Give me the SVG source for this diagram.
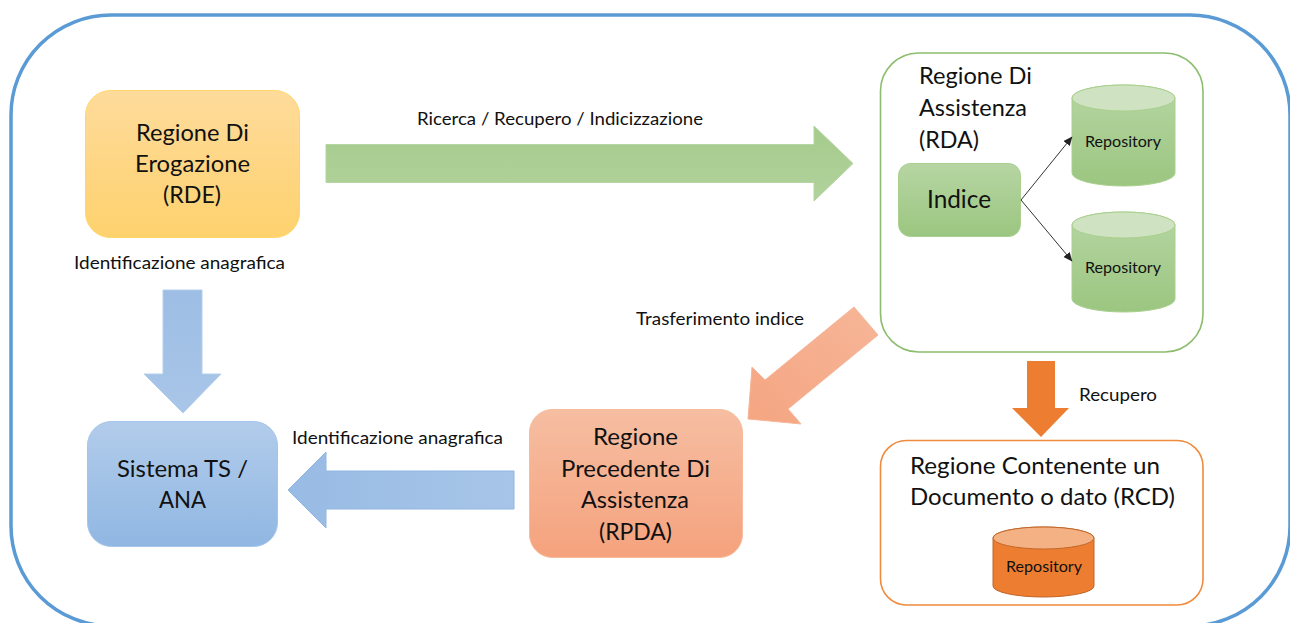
<svg xmlns="http://www.w3.org/2000/svg" width="1290" height="623" viewBox="0 0 1290 623">
<defs>
<linearGradient id="gy" x1="0" y1="0" x2="0" y2="1"><stop offset="0" stop-color="#fedb9b"/><stop offset="1" stop-color="#fed26e"/></linearGradient>
<linearGradient id="gg" x1="0" y1="0" x2="0" y2="1"><stop offset="0" stop-color="#b6d5a3"/><stop offset="1" stop-color="#9bc680"/></linearGradient>
<linearGradient id="gb" x1="0" y1="0" x2="0" y2="1"><stop offset="0" stop-color="#b2cceb"/><stop offset="1" stop-color="#90b7e2"/></linearGradient>
<linearGradient id="go" x1="0" y1="0" x2="0" y2="1"><stop offset="0" stop-color="#f6bea2"/><stop offset="1" stop-color="#f5a27d"/></linearGradient>
<linearGradient id="agr" x1="0" y1="0" x2="0" y2="1"><stop offset="0" stop-color="#a5cb8c"/><stop offset="1" stop-color="#b1d29c"/></linearGradient>
<linearGradient id="abh" x1="0" y1="0" x2="1" y2="0"><stop offset="0" stop-color="#98bbe4"/><stop offset="1" stop-color="#a7c5e8"/></linearGradient>
<linearGradient id="abv" x1="0" y1="0" x2="0" y2="1"><stop offset="0" stop-color="#9dbde4"/><stop offset="1" stop-color="#a9c6e8"/></linearGradient>
<linearGradient id="aod" x1="1" y1="0" x2="0" y2="1"><stop offset="0" stop-color="#f6b698"/><stop offset="1" stop-color="#f5a582"/></linearGradient>
<marker id="ah" markerWidth="10" markerHeight="10" refX="8.5" refY="4" orient="auto" markerUnits="userSpaceOnUse"><path d="M0,0 L9,4 L0,8 Z" fill="#222"/></marker>
</defs>
<style>
text{font-family:Lato,"Liberation Sans",sans-serif;fill:#111}
.b{font-size:22.5px}
.s{font-size:17px}
.r{font-size:15px}
.i{font-size:25.5px}
.ws{fill:#fff;stroke-width:1.6}
.nb{stroke-width:1}
.cg{fill:url(#gg);stroke:#a9d08e;stroke-width:1}
.ct{fill:#cfe3c2;stroke:#a9d08e;stroke-width:1}
</style>
<rect width="1290" height="623" fill="#fff"/>
<rect id="frame" x="11" y="15" width="1279" height="611" rx="100" ry="100" fill="none" stroke="#5b9bd5" stroke-width="3.5"/>

<g id="rde">
<rect class="nb" x="85.5" y="90.5" width="214" height="147" rx="25" fill="url(#gy)" stroke="#ffd666"/>
<text class="b" x="136" y="141" textLength="113" lengthAdjust="spacingAndGlyphs">Regione Di</text>
<text class="b" x="135" y="172" textLength="115" lengthAdjust="spacingAndGlyphs">Erogazione</text>
<text class="b" x="163" y="203" textLength="58" lengthAdjust="spacingAndGlyphs">(RDE)</text>
</g>

<g id="sistema">
<rect class="nb" x="87.5" y="421.5" width="190" height="125" rx="24" fill="url(#gb)" stroke="#a5c5ea"/>
<text class="b" x="117" y="477" textLength="131" lengthAdjust="spacingAndGlyphs">Sistema TS /</text>
<text class="b" x="159" y="508" textLength="47" lengthAdjust="spacingAndGlyphs">ANA</text>
</g>

<g id="rpda">
<rect class="nb" x="529.5" y="409.5" width="213" height="148" rx="23" fill="url(#go)" stroke="#f7bc9c"/>
<text class="b" x="593" y="445" textLength="85" lengthAdjust="spacingAndGlyphs">Regione</text>
<text class="b" x="561" y="477" textLength="149" lengthAdjust="spacingAndGlyphs">Precedente Di</text>
<text class="b" x="581" y="508" textLength="108" lengthAdjust="spacingAndGlyphs">Assistenza</text>
<text class="b" x="599" y="540" textLength="73" lengthAdjust="spacingAndGlyphs">(RPDA)</text>
</g>

<g id="rda">
<rect class="ws" x="880.5" y="53" width="322.5" height="299" rx="38" stroke="#8cbd6e"/>
<text class="b" x="919" y="84" textLength="113" lengthAdjust="spacingAndGlyphs">Regione Di</text>
<text class="b" x="919" y="116" textLength="108" lengthAdjust="spacingAndGlyphs">Assistenza</text>
<text class="b" x="919" y="148" textLength="60" lengthAdjust="spacingAndGlyphs">(RDA)</text>
</g>

<g id="indice">
<rect class="nb" x="898.5" y="163.5" width="122" height="73" rx="12" fill="url(#gg)" stroke="#a9d08e"/>
<text class="i" x="927" y="208" textLength="64" lengthAdjust="spacingAndGlyphs">Indice</text>
</g>

<g id="repo1">
<path class="cg" d="M1072,98 A51.5,13 0 0 1 1175,98 V173 A51.5,13 0 0 1 1072,173 Z"/>
<ellipse class="ct" cx="1123.5" cy="98" rx="51.5" ry="13"/>
<text class="r" x="1085" y="147" textLength="76" lengthAdjust="spacingAndGlyphs">Repository</text>
</g>

<g id="repo2">
<path class="cg" d="M1072,225 A51.5,13 0 0 1 1175,225 V299 A51.5,13 0 0 1 1072,299 Z"/>
<ellipse class="ct" cx="1123.5" cy="225" rx="51.5" ry="13"/>
<text class="r" x="1085" y="273" textLength="76" lengthAdjust="spacingAndGlyphs">Repository</text>
</g>

<g id="rcd">
<rect class="ws" x="880.5" y="440.5" width="322.5" height="164.5" rx="26" stroke="#f08a3c"/>
<text class="b" x="910" y="474" textLength="250" lengthAdjust="spacingAndGlyphs">Regione Contenente un</text>
<text class="b" x="910" y="505" textLength="265" lengthAdjust="spacingAndGlyphs">Documento o dato (RCD)</text>
</g>

<g id="repo3">
<path d="M993,538 A50.5,11 0 0 1 1094,538 V586 A50.5,11 0 0 1 993,586 Z" fill="#ed7d31" stroke="#c2672a" stroke-width="1"/>
<ellipse cx="1043.5" cy="538" rx="50.5" ry="11" fill="#f4b183" stroke="#c2672a" stroke-width="1"/>
<text class="r" x="1006" y="572" textLength="76" lengthAdjust="spacingAndGlyphs">Repository</text>
</g>

<g id="connectors">
<path d="M326,144.5 H814 V126 L853,163.5 L814,201 V182.5 H326 Z" fill="url(#agr)" stroke="#b5d5a2" stroke-width="1"/>
<path d="M163,290 H202 V374 H221 L183,413 L144,374 H163 Z" fill="url(#abv)" stroke="#b4cfec" stroke-width="1"/>
<path d="M514,471 H326 V452 L288,490 L326,528 V509 H514 Z" fill="url(#abh)" stroke="#8fb6e2" stroke-width="1"/>
<path d="M854,307 L878,335 L788,409 L801,424 L748,419 L752,367 L765,380 Z" fill="url(#aod)" stroke="#f6b697" stroke-width="1"/>
<path d="M1027,361 H1055 V408 H1069 L1041,437 L1012,408 H1027 Z" fill="#ed7d31"/>
<line x1="1021" y1="200" x2="1072" y2="137" stroke="#333" stroke-width="1" marker-end="url(#ah)"/>
<line x1="1021" y1="200" x2="1072" y2="261" stroke="#333" stroke-width="1" marker-end="url(#ah)"/>
</g>

<g id="labels">
<text class="s" x="417" y="125" textLength="286" lengthAdjust="spacingAndGlyphs">Ricerca / Recupero / Indicizzazione</text>
<text class="s" x="74" y="269" textLength="211" lengthAdjust="spacingAndGlyphs">Identificazione anagrafica</text>
<text class="s" x="292" y="444" textLength="211" lengthAdjust="spacingAndGlyphs">Identificazione anagrafica</text>
<text class="s" x="636" y="325" textLength="168" lengthAdjust="spacingAndGlyphs">Trasferimento indice</text>
<text class="s" x="1079" y="401" textLength="78" lengthAdjust="spacingAndGlyphs">Recupero</text>
</g>
</svg>
